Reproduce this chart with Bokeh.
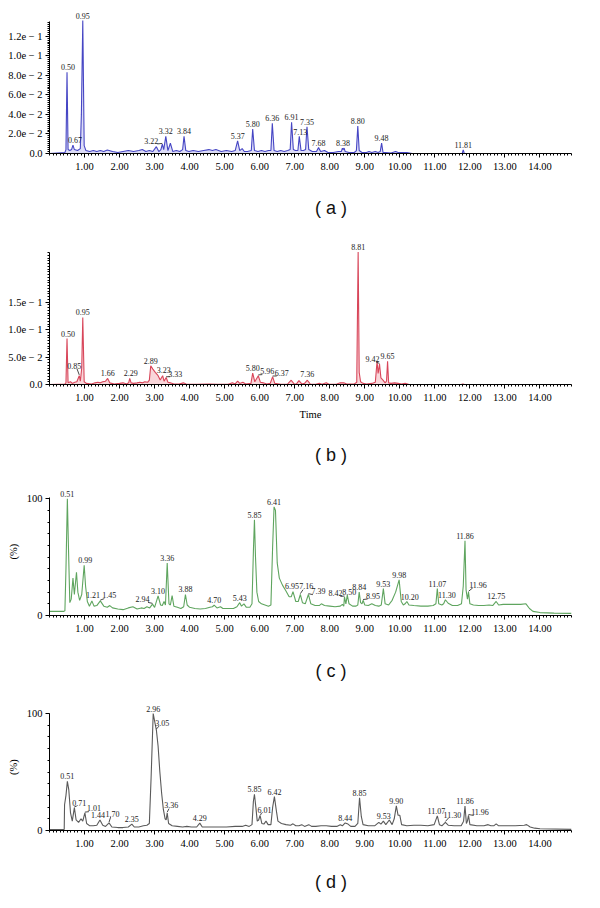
from bokeh.plotting import figure
from bokeh.models import (ColumnDataSource, LabelSet, Label, FixedTicker, Range1d,
                          CustomJSTickFormatter, NumeralTickFormatter)
from bokeh.layouts import column
from bokeh.embed import file_html
from bokeh.resources import INLINE

# ---------------- data ----------------
x_major = [1, 2, 3, 4, 5, 6, 7, 8, 9, 10, 11, 12, 13, 14]

# (a)
a_t = [0.00, 0.44, 0.47, 0.50, 0.53, 0.58, 0.63, 0.67, 0.71, 0.80, 0.88, 0.91, 0.95, 0.99, 1.04, 1.15, 1.25,
       1.35, 1.45, 1.55, 1.65, 1.80, 1.95, 2.10, 2.25, 2.40, 2.55, 2.65, 2.75, 2.85, 2.95, 3.05, 3.12, 3.18,
       3.22, 3.26, 3.32, 3.38, 3.45, 3.52, 3.62, 3.72, 3.80, 3.84, 3.89, 3.98, 4.10, 4.25, 4.40, 4.55, 4.65,
       4.75, 4.90, 5.05, 5.20, 5.30, 5.37, 5.43, 5.50, 5.56, 5.65, 5.76, 5.80, 5.85, 5.95, 6.05, 6.15, 6.25,
       6.32, 6.36, 6.41, 6.50, 6.60, 6.70, 6.80, 6.87, 6.91, 6.96, 7.02, 7.09, 7.13, 7.18, 7.25, 7.31, 7.35,
       7.40, 7.50, 7.62, 7.68, 7.74, 7.85, 7.95, 8.10, 8.25, 8.33, 8.36, 8.38, 8.41, 8.44, 8.55, 8.70, 8.76,
       8.80, 8.84, 8.92, 9.05, 9.12, 9.20, 9.30, 9.38, 9.44, 9.48, 9.52, 9.60, 9.75, 9.88, 9.95, 10.05, 10.20,
       10.35, 11.70, 11.78, 11.81, 11.84, 11.92, 14.90]
a_v = [0.0, 0.001, 0.004, 0.083, 0.004, 0.003, 0.004, 0.0085, 0.004, 0.003, 0.005, 0.04, 0.136, 0.008, 0.003,
       0.002, 0.003, 0.002, 0.003, 0.002, 0.0035, 0.002, 0.001, 0.002, 0.003, 0.002, 0.003, 0.004, 0.002,
       0.003, 0.002, 0.007, 0.002, 0.004, 0.0095, 0.004, 0.0175, 0.003, 0.0105, 0.002, 0.003, 0.002, 0.004,
       0.0175, 0.003, 0.002, 0.003, 0.002, 0.003, 0.004, 0.003, 0.004, 0.002, 0.003, 0.002, 0.003, 0.013,
       0.003, 0.005, 0.002, 0.002, 0.003, 0.025, 0.003, 0.002, 0.003, 0.002, 0.003, 0.003, 0.031, 0.003,
       0.002, 0.003, 0.002, 0.003, 0.004, 0.032, 0.004, 0.003, 0.003, 0.0175, 0.003, 0.003, 0.004, 0.0273,
       0.004, 0.002, 0.002, 0.006, 0.002, 0.003, 0.001, 0.001, 0.002, 0.002, 0.0055, 0.004, 0.0055, 0.002,
       0.001, 0.001, 0.003, 0.028, 0.003, 0.001, 0.001, 0.002, 0.001, 0.002, 0.001, 0.002, 0.0106, 0.001,
       0.001, 0.0005, 0.002, 0.001, 0.001, 0.001, 0.0, 0.0, 0.0, 0.0038, 0.0, 0.0, 0.0]
a_peaks = ["0.50", "0.67", "0.95", "3.22", "3.32", "3.84", "5.37", "5.80", "6.36", "6.91", "7.13", "7.35",
           "7.68", "8.38", "8.80", "9.48", "11.81"]
a_peak_h = [0.083, 0.0085, 0.136, 0.0095, 0.0175, 0.0175, 0.013, 0.025, 0.031, 0.032, 0.0175, 0.0273,
            0.006, 0.0055, 0.028, 0.0106, 0.0038]
a_yticks = [0.0, 0.02, 0.04, 0.06, 0.08, 0.10, 0.12]
a_ylabels = ["0.0", "2.0e − 2", "4.0e − 2", "6.0e − 2", "8.0e − 2", "1.0e − 1", "1.2e − 1"]

# (b)
b_t = [0.00, 0.44, 0.47, 0.50, 0.53, 0.60, 0.65, 0.72, 0.78, 0.85, 0.88, 0.92, 0.95, 0.99, 1.05, 1.20, 1.30,
       1.38, 1.45, 1.52, 1.60, 1.66, 1.72, 1.85, 2.00, 2.10, 2.20, 2.26, 2.29, 2.33, 2.40, 2.50, 2.58, 2.66,
       2.72, 2.80, 2.85, 2.89, 2.95, 3.02, 3.10, 3.16, 3.23, 3.27, 3.33, 3.38, 3.45, 3.55, 3.70, 3.82, 3.90,
       4.20, 4.55, 4.80, 5.10, 5.22, 5.30, 5.37, 5.43, 5.52, 5.60, 5.75, 5.80, 5.86, 5.96, 6.02, 6.10, 6.20,
       6.30, 6.37, 6.43, 6.60, 6.80, 6.90, 6.98, 7.05, 7.12, 7.20, 7.28, 7.36, 7.44, 7.60, 7.70, 7.78, 7.90,
       7.98, 8.20, 8.30, 8.40, 8.48, 8.70, 8.77, 8.81, 8.84, 8.88, 8.95, 9.05, 9.20, 9.30, 9.35, 9.38, 9.42,
       9.46, 9.52, 9.58, 9.62, 9.65, 9.68, 9.75, 9.85, 9.95, 10.05, 10.15, 10.25, 10.40, 11.75, 11.80, 11.85,
       14.90]
b_v = [0.0, 0.001, 0.003, 0.0836, 0.003, 0.005, 0.002, 0.004, 0.005, 0.016, 0.006, 0.03, 0.122, 0.005, 0.002,
       0.001, 0.003, 0.004, 0.003, 0.005, 0.006, 0.011, 0.003, 0.001, 0.002, 0.003, 0.001, 0.003, 0.011,
       0.003, 0.002, 0.003, 0.004, 0.003, 0.005, 0.004, 0.008, 0.034, 0.028, 0.022, 0.016, 0.008, 0.016,
       0.006, 0.0127, 0.004, 0.003, 0.001, 0.001, 0.003, 0.001, 0.0005, 0.001, 0.0005, 0.0005, 0.003, 0.001,
       0.006, 0.002, 0.004, 0.001, 0.002, 0.0206, 0.005, 0.016, 0.004, 0.003, 0.001, 0.002, 0.014, 0.002,
       0.0005, 0.001, 0.0078, 0.001, 0.001, 0.007, 0.001, 0.002, 0.0078, 0.001, 0.0005, 0.002, 0.0005, 0.003,
       0.0005, 0.001, 0.003, 0.003, 0.001, 0.001, 0.004, 0.241, 0.022, 0.005, 0.002, 0.001, 0.002, 0.004,
       0.042, 0.02, 0.037, 0.012, 0.008, 0.003, 0.006, 0.042, 0.003, 0.002, 0.003, 0.002, 0.001, 0.002,
       0.0005, 0.0, 0.0, 0.001, 0.0, 0.0]
b_peaks = ["0.50", "0.85", "0.95", "1.66", "2.29", "2.89", "3.23", "3.33", "5.80", "5.96", "6.37", "7.36",
           "8.81", "9.42", "9.65"]
b_peak_h = [0.0836, 0.016, 0.122, 0.011, 0.011, 0.034, 0.016, 0.0127, 0.0206, 0.016, 0.014, 0.0078, 0.241,
            0.037, 0.042]
b_yticks = [0.0, 0.05, 0.10, 0.15]
b_ylabels = ["0.0", "5.0e − 2", "1.0e − 1", "1.5e − 1"]

# (c)  intensity in %
c_t = [0.00, 0.40, 0.44, 0.47, 0.51, 0.54, 0.58, 0.62, 0.67, 0.71, 0.77, 0.81, 0.86, 0.92, 0.99, 1.03, 1.08,
       1.14, 1.21, 1.27, 1.35, 1.45, 1.55, 1.65, 1.72, 1.80, 1.95, 2.10, 2.25, 2.38, 2.50, 2.62, 2.70, 2.78,
       2.86, 2.94, 3.00, 3.10, 3.17, 3.22, 3.27, 3.31, 3.36, 3.41, 3.45, 3.50, 3.55, 3.65, 3.75, 3.83, 3.88,
       3.93, 4.00, 4.15, 4.30, 4.45, 4.58, 4.65, 4.70, 4.78, 4.88, 4.95, 5.10, 5.25, 5.35, 5.43, 5.48, 5.55,
       5.62, 5.72, 5.78, 5.82, 5.85, 5.88, 5.92, 5.97, 6.05, 6.15, 6.25, 6.32, 6.37, 6.41, 6.45, 6.50, 6.56,
       6.65, 6.75, 6.84, 6.90, 6.95, 7.03, 7.10, 7.16, 7.22, 7.30, 7.39, 7.46, 7.58, 7.70, 7.76, 7.85, 8.00,
       8.15, 8.30, 8.36, 8.40, 8.42, 8.46, 8.50, 8.55, 8.65, 8.75, 8.80, 8.84, 8.88, 8.92, 8.95, 9.00, 9.10,
       9.20, 9.30, 9.40, 9.47, 9.53, 9.58, 9.68, 9.78, 9.88, 9.98, 10.04, 10.10, 10.15, 10.20, 10.26, 10.40,
       10.60, 10.80, 10.95, 11.03, 11.07, 11.11, 11.20, 11.25, 11.30, 11.38, 11.50, 11.65, 11.76, 11.81,
       11.86, 11.89, 11.93, 11.96, 12.00, 12.10, 12.25, 12.40, 12.55, 12.65, 12.75, 12.82, 12.95, 13.20,
       13.45, 13.60, 13.70, 13.80, 14.00, 14.40, 14.90]
c_v = [3.5, 3.5, 4, 40, 100, 60, 11, 14, 32, 18, 37, 20, 13, 18, 43, 25, 12, 8, 12.5, 8, 8.5, 12.5, 8, 7,
       8.5, 6.5, 5.5, 5, 6.5, 7.5, 5.5, 6.5, 6, 7.5, 6.5, 9.7, 7, 16.8, 9, 8.5, 12, 9, 45, 10, 9, 17, 8, 7,
       6, 7.5, 18, 9, 7, 6, 5.5, 6, 7, 7.5, 8.8, 6.5, 7.5, 6, 6, 6, 7.5, 11, 8, 10, 7, 7, 10, 55, 82, 50,
       20, 12, 10, 9, 8, 9, 60, 93, 90, 45, 32, 26, 21, 16, 16, 20.5, 12, 12, 18, 11, 10, 18, 10, 8.5, 8.5,
       10, 8.5, 8, 7.5, 8, 9.5, 8, 16, 10, 17.5, 10, 8, 8, 9, 20, 11, 10, 13, 9, 8.5, 10, 8.5, 8, 9, 23, 10,
       9, 13, 20, 30.5, 12, 9, 10, 12, 9, 8.5, 8, 8, 8.5, 10, 23, 10, 9, 10, 13.5, 10.5, 8.5, 8.5, 10, 25,
       64, 22, 14, 20, 10, 9, 8.5, 8.5, 9, 8.5, 12, 9, 9.5, 9.5, 9.5, 10, 6, 3.5, 2.5, 2, 1.8]
c_peaks = ["0.51", "0.99", "1.21", "1.45", "2.94", "3.10", "3.36", "3.88", "4.70", "5.43", "5.85", "6.41",
           "6.95", "7.16", "7.39", "8.42", "8.50", "8.84", "8.95", "9.53", "9.98", "10.20", "11.07", "11.30",
           "11.86", "11.96", "12.75"]
c_peak_h = [100, 43, 12.5, 12.5, 9.7, 16.8, 45, 18, 8.8, 11, 82, 93, 20.5, 18, 18, 16, 17.5, 20, 13, 23,
            30.5, 12, 23, 13.5, 64, 20, 12]

# (d)  intensity in %
d_t = [0.00, 0.42, 0.43, 0.47, 0.51, 0.55, 0.60, 0.65, 0.71, 0.76, 0.83, 0.90, 0.95, 1.01, 1.06, 1.15, 1.25,
       1.35, 1.44, 1.52, 1.60, 1.70, 1.78, 1.95, 2.10, 2.25, 2.35, 2.42, 2.55, 2.68, 2.78, 2.85, 2.90, 2.96,
       3.01, 3.05, 3.10, 3.15, 3.20, 3.25, 3.30, 3.33, 3.36, 3.40, 3.50, 3.65, 3.80, 3.92, 4.05, 4.20, 4.29,
       4.36, 4.55, 4.80, 5.05, 5.30, 5.50, 5.60, 5.70, 5.78, 5.82, 5.85, 5.89, 5.93, 5.97, 6.01, 6.06, 6.12,
       6.18, 6.24, 6.32, 6.37, 6.42, 6.47, 6.52, 6.62, 6.75, 6.88, 6.95, 7.03, 7.12, 7.20, 7.28, 7.40, 7.48,
       7.60, 7.75, 7.90, 8.05, 8.20, 8.30, 8.36, 8.44, 8.52, 8.60, 8.72, 8.80, 8.85, 8.90, 8.95, 9.10, 9.28,
       9.40, 9.46, 9.53, 9.60, 9.70, 9.78, 9.84, 9.90, 9.95, 10.00, 10.05, 10.20, 10.40, 10.60, 10.80, 10.98,
       11.07, 11.13, 11.20, 11.30, 11.38, 11.55, 11.75, 11.82, 11.86, 11.90, 11.93, 11.96, 12.00, 12.20,
       12.40, 12.52, 12.60, 12.68, 12.75, 12.82, 13.00, 13.30, 13.55, 13.62, 13.72, 13.85, 14.00, 14.90]
d_v = [0.8, 0.8, 22, 30, 42, 35, 15, 8, 19.6, 9, 7, 10, 8, 15, 6, 4, 4, 4.5, 9, 4.5, 3.5, 6.5, 3, 2.5, 2.5,
       3, 5.4, 3, 3, 4, 4.5, 6, 45, 100, 92, 86, 72, 50, 32, 18, 10, 9, 15, 6, 4, 3.5, 3, 3.5, 3, 3, 6.3, 3,
       3, 3, 3, 3.5, 3.5, 4.5, 3.5, 5, 25, 31, 20, 8, 9, 13, 6, 5.5, 8, 5, 5, 20, 29, 18, 8, 6, 5, 4.5, 5.7,
       4, 4, 5, 3.5, 5, 3.5, 3.5, 4, 4, 3.5, 3.5, 5, 4, 6.5, 5.5, 3.5, 3.5, 6, 28, 12, 5, 4, 4, 7, 5.5, 8, 5,
       9, 5, 10, 21, 13, 13, 5, 4, 4.5, 4.5, 4, 5, 12.5, 5, 4, 7, 4.5, 4, 4, 8, 21, 6, 8, 13, 5, 4, 4, 5, 4,
       4, 5.7, 4, 4, 4, 4.5, 5, 3, 2, 1.5, 1]
d_peaks = ["0.51", "0.71", "1.01", "1.44", "1.70", "2.35", "2.96", "3.05", "3.36", "4.29", "5.85", "6.01",
           "6.42", "8.44", "8.85", "9.53", "9.90", "11.07", "11.30", "11.86", "11.96"]
d_peak_h = [42, 19.6, 15, 9, 6.5, 5.4, 100, 86, 15, 6.3, 31, 13, 29, 6.5, 28, 8, 21, 12.5, 7, 21, 13]
pct_yticks = [0, 100]
pct_ylabels = ["0", "100"]

# ---------------- label placement (pixels: right, up; leader flag) ----------------
a_off = {"3.22": (-11, 3.5, 1), "0.67": (2, 5.5, 0), "7.13": (1, 4.5, 0), "0.50": (1, 5, 0)}
b_off = {"0.85": (-5, 10, 1), "3.33": (9, 4, 1), "5.96": (9, 4.3, 1), "6.37": (9, 4, 1),
         "9.42": (-7, 5, 1), "0.50": (1, 5, 0), "2.29": (1, 5.3, 0), "3.23": (1, 6, 0), "7.36": (0, 6, 0)}
c_off = {"1.45": (9, 5.5, 1), "2.94": (-10, 5, 1), "6.95": (-1, 5.5, 0), "7.16": (6, 8, 1),
         "7.39": (10, 3, 1), "8.42": (-9, 3.5, 1), "8.50": (2, 3, 0), "8.95": (10, 4.5, 1),
         "10.20": (3, 4.5, 0), "11.30": (1.5, 5, 0), "11.96": (9.5, 7.5, 1), "0.99": (1, 5.5, 0),
         "1.21": (1, 5.5, 0)}
d_off = {"0.71": (5, 4.5, 1), "1.01": (9, 4.5, 1), "1.44": (-2, 5, 0), "1.70": (3.5, 9, 1),
         "3.05": (6, 7, 1), "3.36": (4, 7.5, 1), "6.01": (4.5, 5, 1), "9.53": (0.5, 5.5, 0),
         "11.07": (-1, 4.5, 0), "11.30": (7, 7.5, 1), "11.96": (11.5, 3, 1)}

FW, ML, MR = 584, 49, 13
XMAX = 14.9
SERIF = "Liberation Serif"
EXTRA = 10  # px of headroom above the axis top, for peak labels


def make_panel(t, v, peaks, peak_h, offs, ytop, yticks, ylabels, yminor, line_color, fill_color,
               axis_h, top, bottom, xlabel=None, ylabel=None):
    frame_h = axis_h + EXTRA
    ypp = ytop / axis_h
    ymax = ytop + EXTRA * ypp
    height = top + frame_h + bottom
    p = figure(width=FW, height=height, min_border_left=ML, min_border_right=MR,
               min_border_top=top, min_border_bottom=bottom,
               x_range=Range1d(0, XMAX), y_range=Range1d(0, ymax),
               toolbar_location=None, output_backend="svg")
    p.grid.visible = False
    p.outline_line_color = None

    xpp = XMAX / (FW - ML - MR)

    if fill_color is not None:
        p.varea(x=t, y1=[0] * len(t), y2=v, fill_color=fill_color, fill_alpha=0.45)
    p.line(t, v, line_color=line_color, line_width=1.1)

    xs, ys, dxs, dys = [], [], [], []
    lx0, ly0, lx1, ly1 = [], [], [], []
    for txt, h in zip(peaks, peak_h):
        dx, dy, lead = offs.get(txt, (0, 5, 0))
        rt = float(txt)
        xs.append(rt)
        ys.append(h)
        dxs.append(dx)
        dys.append(dy)
        if lead:
            lx0.append(rt)
            ly0.append(h + 0.8 * ypp)
            lx1.append(rt + dx * 0.45 * xpp)
            ly1.append(h + (dy - 3.2) * ypp)
    src = ColumnDataSource(dict(x=xs, y=ys, text=list(peaks), dx=dxs, dy=dys))
    p.add_layout(LabelSet(x="x", y="y", text="text", x_offset="dx", y_offset="dy", source=src,
                          text_font=SERIF, text_font_size="8px", text_color="#1a1a1a",
                          text_align="center", text_baseline="middle"))
    if lx0:
        p.segment(x0=lx0, y0=ly0, x1=lx1, y1=ly1, line_color="#1a1a1a", line_width=0.8)

    xa = p.xaxis[0]
    xa.ticker = FixedTicker(ticks=x_major, minor_ticks=[i / 10 for i in range(0, 150)])
    xa.formatter = NumeralTickFormatter(format="0.00")
    ya = p.yaxis[0]
    ya.ticker = FixedTicker(ticks=yticks, minor_ticks=yminor)
    ya.bounds = (0, ytop)
    ya.formatter = CustomJSTickFormatter(args=dict(tv=yticks, lb=ylabels), code="""
        for (let i = 0; i < tv.length; i++) { if (Math.abs(tv[i] - tick) < 1e-9) return lb[i]; }
        return "";""")
    for ax in (xa, ya):
        ax.axis_line_color = "black"
        ax.major_tick_line_color = "black"
        ax.minor_tick_line_color = "black"
        ax.major_tick_in = 0
        ax.major_tick_out = 4
        ax.minor_tick_in = 0
        ax.minor_tick_out = 2
        ax.major_label_text_font = SERIF
        ax.major_label_text_font_size = "10.5px"
        ax.major_label_text_color = "black"
        ax.axis_label_text_font = SERIF
        ax.axis_label_text_font_size = "10.5px"
        ax.axis_label_text_font_style = "normal"
        ax.axis_label_text_color = "black"
    xa.major_label_standoff = 5
    ya.major_label_standoff = 3
    if xlabel:
        xa.axis_label = xlabel
        xa.axis_label_standoff = 5
    if ylabel:
        ya.axis_label = ylabel
        ya.axis_label_standoff = 5
    return p


def caption(text, height, center_from_top):
    c = figure(width=FW, height=height, min_border=0, x_range=Range1d(0, FW), y_range=Range1d(0, height),
               toolbar_location=None, output_backend="svg")
    c.axis.visible = False
    c.grid.visible = False
    c.outline_line_color = None
    c.add_layout(Label(x=323 - 8, y=height - center_from_top, text=text,
                       text_font="Liberation Sans", text_font_size="18px", text_color="#111111",
                       text_align="center", text_baseline="middle"))
    return c


pa = make_panel(a_t, a_v, a_peaks, a_peak_h, a_off, 0.135, a_yticks, a_ylabels,
                [i * 0.002 for i in range(0, 68)], "#4646c4", "#b4b4ee", 132, 11, 34)
pb = make_panel(b_t, b_v, b_peaks, b_peak_h, b_off, 0.24, b_yticks, b_ylabels,
                [i * 0.005 for i in range(0, 49)], "#d8465a", "#f2a4ae", 132, 10, 40, xlabel="Time")
pc = make_panel(c_t, c_v, c_peaks, c_peak_h, c_off, 101, pct_yticks, pct_ylabels,
                [i * 10 for i in range(0, 11)], "#5fa55f", None, 118, 13, 34, ylabel="(%)")
pd = make_panel(d_t, d_v, d_peaks, d_peak_h, d_off, 100, pct_yticks, pct_ylabels,
                [i * 10 for i in range(0, 11)], "#5a5a5a", None, 117, 13, 34, ylabel="(%)")

layout = column(pa, caption("( a )", 45, 20), pb, caption("( b )", 50, 30),
                pc, caption("( c )", 41, 21), pd, caption("( d )", 28, 17), spacing=0)
open("out.html", "w").write(file_html(layout, INLINE))
